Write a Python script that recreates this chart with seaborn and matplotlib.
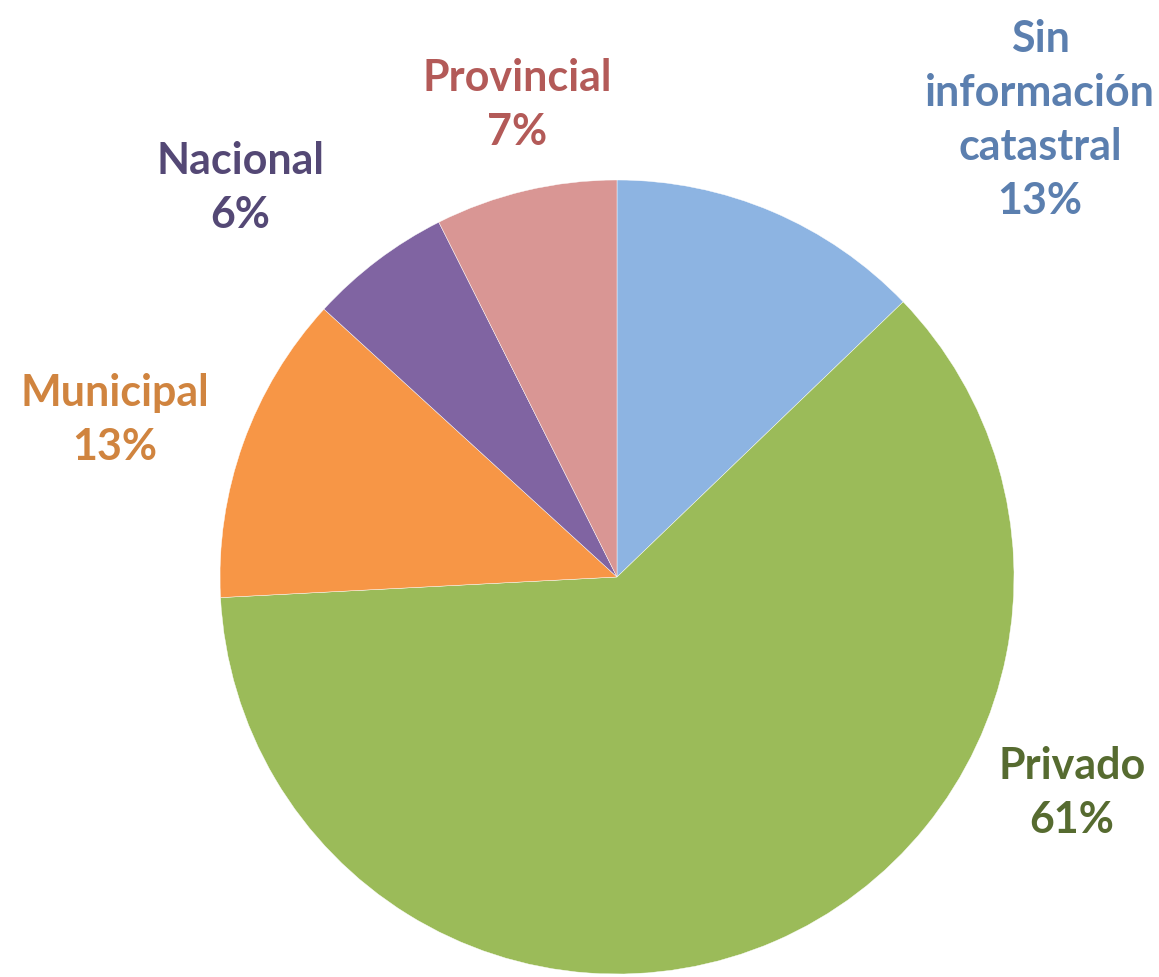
import matplotlib
matplotlib.use("Agg")
import matplotlib.pyplot as plt
import seaborn as sns

categories = ["Sin\ninformación\ncatastral", "Privado", "Municipal", "Nacional", "Provincial"]
values = [12.8, 61.3, 12.6, 5.8, 7.4]
slice_colors = ["#8DB4E2", "#9BBB59", "#F79646", "#8064A2", "#D99694"]
text_colors = ["#5B7FAF", "#566B30", "#D0843F", "#544875", "#B35A58"]
# label anchor positions (pixels in the 1159x977 canvas)
label_px = [(1040, 120), (1072, 793), (115, 420), (240, 188), (517, 105)]

sns.set_theme(style="white")
plt.rcParams['font.family'] = ['Lato', 'DejaVu Sans']

W, H = 1159, 977
cx, cy, r = 617, 577, 397
fig = plt.figure(figsize=(W / 100, H / 100), dpi=100)
fig.patch.set_facecolor("white")
ax = fig.add_axes([(cx - r) / W, (H - cy - r) / H, 2 * r / W, 2 * r / H])
ax.pie(values, colors=slice_colors, startangle=90, counterclock=False,
       radius=1.0, wedgeprops=dict(linewidth=0.3, edgecolor="white"))
ax.set_xlim(-1, 1)
ax.set_ylim(-1, 1)
ax.set_aspect("equal")
ax.axis("off")

for cat, v, tc, (px, py) in zip(categories, values, text_colors, label_px):
    fig.text(px / W, 1 - py / H, f"{cat}\n{round(v):d}%", color=tc,
             fontsize=31, fontweight="bold", ha="center", va="center",
             linespacing=1.42)

fig.savefig("out.png", dpi=100, facecolor="white")
